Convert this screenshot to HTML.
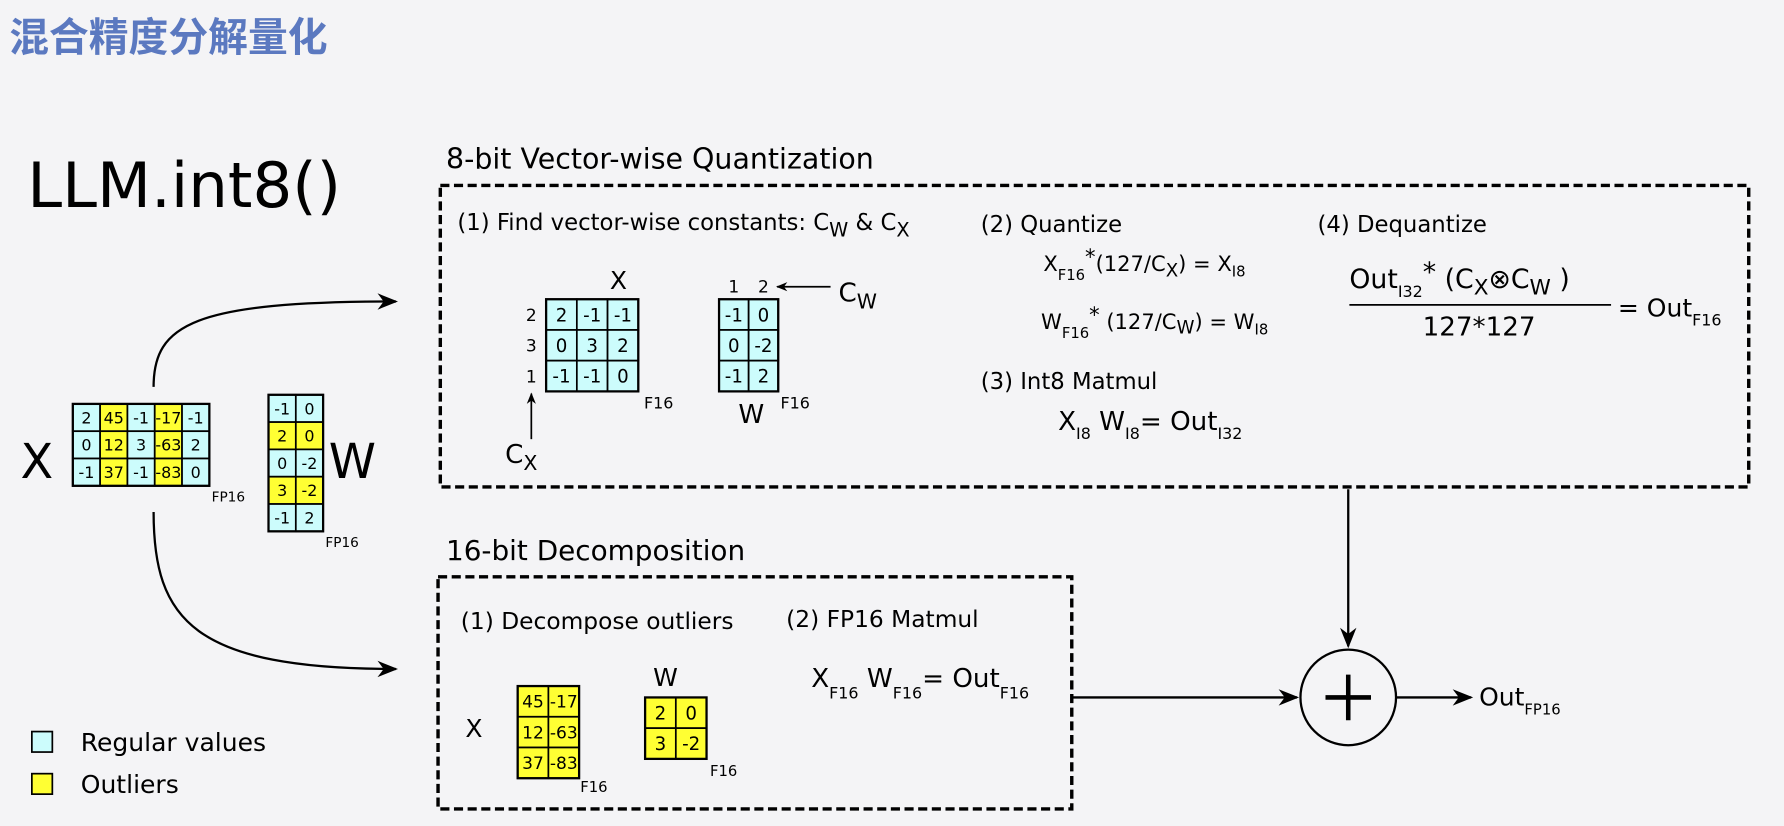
<!DOCTYPE html>
<html><head><meta charset="utf-8"><style>
html,body{margin:0;padding:0;background:#f4f4f6;}
svg{display:block;font-family:"DejaVu Sans","Liberation Sans",sans-serif;}
</style></head><body>
<svg id="fig" width="1784" height="826" viewBox="0 0 1568 726" preserveAspectRatio="none" xmlns="http://www.w3.org/2000/svg">
<defs>
<marker id="ah" viewBox="0 0 10 10" refX="9" refY="5" markerWidth="10" markerHeight="10" markerUnits="userSpaceOnUse" orient="auto"><path d="M0,1 L10,5 L0,9 L3,5 Z" fill="#000"/></marker>
<marker id="ahb" viewBox="0 0 10 10" refX="9" refY="5" markerWidth="22" markerHeight="18" markerUnits="userSpaceOnUse" orient="auto"><path d="M0,1 L10,5 L0,9 L3,5 Z" fill="#000"/></marker>
</defs>
<rect width="1568" height="726" fill="#f4f4f6"/>
<text x="8" y="45" font-size="35" font-weight="bold" fill="#5b79c0" font-family="'Liberation Sans','Noto Sans CJK SC',sans-serif">混合精度分解量化</text>
<text x="24" y="182" font-size="55">LLM.int8()</text>

<text x="18" y="420" font-size="42">X</text>
<g id="lx"></g>
<text x="186" y="441" font-size="12">FP16</text>
<g id="lw"></g>
<text x="289" y="420" font-size="42">W</text>
<text x="286" y="481" font-size="12">FP16</text>
<path d="M135,340 C135,285 170,265 348,265" fill="none" stroke="#000" stroke-width="2" marker-end="url(#ahb)"/>
<path d="M135,450 C135,545 170,588 348,588" fill="none" stroke="#000" stroke-width="2" marker-end="url(#ahb)"/>

<text x="392" y="148" font-size="25">8-bit Vector-wise Quantization</text>
<rect x="387" y="163" width="1150" height="265" fill="none" stroke="#000" stroke-width="3" stroke-dasharray="8 4"/>
<text x="402" y="202" font-size="20">(1) Find vector-wise constants: C<tspan font-size="17" dy="6">W</tspan><tspan dy="-6"> &amp; C</tspan><tspan font-size="17" dy="6">X</tspan></text>
<text x="536" y="254" font-size="22">X</text>
<g id="qx"></g>
<g id="qxr"></g>
<text x="566" y="359" font-size="14">F16</text>
<line x1="467" y1="386" x2="467" y2="346" stroke="#000" stroke-width="1.5" marker-end="url(#ah)"/>
<text x="444" y="407" font-size="23">C<tspan font-size="18" dy="6">X</tspan></text>
<g id="qw"></g>
<g id="qwc"></g>
<line x1="730" y1="252" x2="683" y2="252" stroke="#000" stroke-width="1.5" marker-end="url(#ah)"/>
<text x="737" y="265" font-size="23">C<tspan font-size="18" dy="6">W</tspan></text>
<text x="649" y="372" font-size="23">W</text>
<text x="686" y="359" font-size="14">F16</text>

<text x="862" y="204" font-size="20">(2) Quantize</text>
<text x="917" y="238" font-size="18.5">X<tspan font-size="13" dy="8">F16</tspan><tspan dy="-14">*</tspan><tspan dy="6">(127/C</tspan><tspan font-size="16" dy="5">X</tspan><tspan dy="-5">) = X</tspan><tspan font-size="13" dy="5">I8</tspan></text>
<text x="915" y="289" font-size="18.5">W<tspan font-size="13" dy="8">F16</tspan><tspan dy="-14">*</tspan><tspan dy="6"> (127/C</tspan><tspan font-size="16" dy="4">W</tspan><tspan dy="-4">) = W</tspan><tspan font-size="13" dy="5">I8</tspan></text>
<text x="862" y="342" font-size="20">(3) Int8 Matmul</text>
<text x="930" y="378" font-size="23">X<tspan font-size="14" dy="8">I8</tspan><tspan dy="-8"> W</tspan><tspan font-size="14" dy="8">I8</tspan><tspan dy="-8">= Out</tspan><tspan font-size="14" dy="8">I32</tspan></text>
<text x="1158" y="204" font-size="20">(4) Dequantize</text>
<text x="1186" y="253" font-size="23.5">Out<tspan font-size="14" dy="8">I32</tspan><tspan dy="-14">*</tspan><tspan dy="6">  (C</tspan><tspan font-size="19" dy="6">X</tspan><tspan dy="-6">⊗C</tspan><tspan font-size="19" dy="6">W</tspan><tspan dy="-6"> )</tspan></text>
<line x1="1186" y1="268" x2="1416" y2="268" stroke="#000" stroke-width="1.5"/>
<text x="1300" y="295" font-size="23" text-anchor="middle">127*127</text>
<text x="1422" y="278" font-size="22">= Out<tspan font-size="14" dy="8">F16</tspan></text>

<text x="392" y="492" font-size="24.5">16-bit Decomposition</text>
<rect x="385" y="507" width="557" height="204" fill="none" stroke="#000" stroke-width="3" stroke-dasharray="8 4"/>
<text x="405" y="553" font-size="20.5">(1) Decompose outliers</text>
<text x="691" y="551" font-size="20.5">(2) FP16 Matmul</text>
<text x="409" y="648" font-size="22">X</text>
<g id="ox"></g>
<text x="510" y="696" font-size="13">F16</text>
<text x="574" y="603" font-size="22">W</text>
<g id="ow"></g>
<text x="624" y="682" font-size="13">F16</text>
<text x="713" y="604" font-size="23">X<tspan font-size="14" dy="10">F16</tspan><tspan dy="-10"> W</tspan><tspan font-size="14" dy="10">F16</tspan><tspan dy="-10">= Out</tspan><tspan font-size="14" dy="10">F16</tspan></text>

<line x1="942" y1="613" x2="1140" y2="613" stroke="#000" stroke-width="2" marker-end="url(#ahb)"/>
<line x1="1185" y1="430" x2="1185" y2="568" stroke="#000" stroke-width="2" marker-end="url(#ahb)"/>
<circle cx="1185" cy="613" r="42" fill="none" stroke="#000" stroke-width="2"/>
<path d="M1185,593 V633 M1165,613 H1205" stroke="#000" stroke-width="4"/>
<line x1="1227" y1="613" x2="1293" y2="613" stroke="#000" stroke-width="2" marker-end="url(#ahb)"/>
<text x="1300" y="620" font-size="22">Out<tspan font-size="13" dy="8">FP16</tspan></text>

<rect x="28" y="643" width="18" height="18" fill="#ccfcfc" stroke="#000" stroke-width="1.5"/>
<text x="71" y="660" font-size="22">Regular values</text>
<rect x="28" y="680" width="18" height="18" fill="#ffff33" stroke="#000" stroke-width="1.5"/>
<text x="71" y="697" font-size="22">Outliers</text>
</svg>
<script>
const inputX = [[2,45,-1,-17,-1],[0,12,3,-63,2],[-1,37,-1,-83,0]];
const inputW = [[-1,0],[2,0],[0,-2],[3,-2],[-1,2]];
const outlierCols = [1,3];
const quantX = [[2,-1,-1],[0,3,2],[-1,-1,0]];
const quantW = [[-1,0],[0,-2],[-1,2]];
const rowConstX = [2,3,1];
const colConstW = [1,2];
const outX = [[45,-17],[12,-63],[37,-83]];
const outW = [[2,0],[3,-2]];
const NS='http://www.w3.org/2000/svg';
const CYAN='#ccfcfc', YEL='#ffff33';
function mk(tag,attrs,parent){const e=document.createElementNS(NS,tag);for(const k in attrs)e.setAttribute(k,attrs[k]);parent.appendChild(e);return e;}
function matrix(id,data,x0,y0,cw,ch,fs,colorFn){
  const g=document.getElementById(id);
  data.forEach((row,r)=>row.forEach((v,c)=>{
    const rc=mk('rect',{x:x0+c*cw,y:y0+r*ch,width:cw,height:ch,fill:colorFn(r,c),stroke:'#000','stroke-width':1.5},g);
    
    
    const t=mk('text',{x:x0+c*cw+cw/2,y:y0+r*ch+ch/2+fs*0.37,'font-size':fs,'text-anchor':'middle'},g);
    
    
    t.textContent=v;
  }));
  mk('rect',{x:x0,y:y0,width:cw*data[0].length,height:ch*data.length,fill:'none',stroke:'#000','stroke-width':2},g);
}
matrix('lx',inputX,64,355,24,24,14,(r,c)=>outlierCols.includes(c)?YEL:CYAN);
matrix('lw',inputW,236,347,24,24,14,(r,c)=>outlierCols.includes(r)?YEL:CYAN);
matrix('qx',quantX,480,263,27,27,16,()=>CYAN);
matrix('qw',quantW,632,263,26,27,16,()=>CYAN);
matrix('ox',outX,455,603,27,27,15,()=>YEL);
matrix('ow',outW,567,613,27,27,16,()=>YEL);
const gr=document.getElementById('qxr');
rowConstX.forEach((v,i)=>{const t=mk('text',{x:467,y:263+i*27+19,'font-size':15,'text-anchor':'middle'},gr);
  
  
  t.textContent=v;});
const gc=document.getElementById('qwc');
colConstW.forEach((v,i)=>{const t=mk('text',{x:632+i*26+13,y:257,'font-size':15,'text-anchor':'middle'},gc);
  
  
  t.textContent=v;});
</script>
</body></html>
